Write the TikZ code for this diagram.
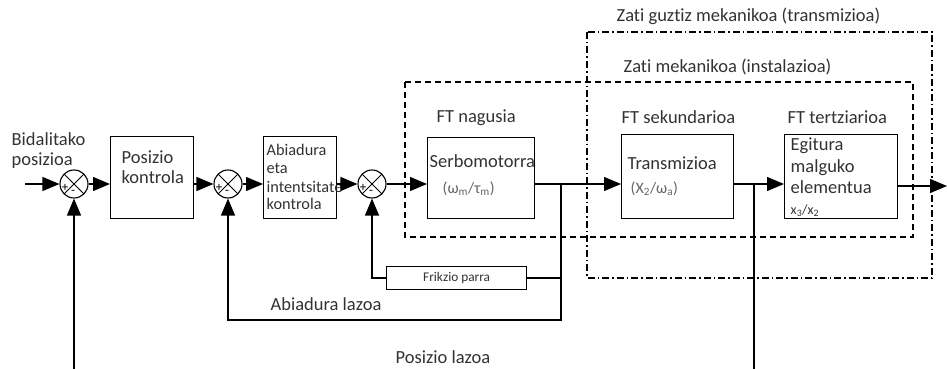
\documentclass[tikz,border=0pt]{standalone}
\usepackage{fontspec}
\setmainfont{Carlito}[Ligatures=NoCommon]
\usetikzlibrary{arrows.meta}
\newcommand\myfs[1]{\fontsize{#1}{#1}\selectfont}
\definecolor{txt}{RGB}{50,50,50}
\begin{document}
\begin{tikzpicture}[x=1pt,y=-1pt,line width=1.35pt,
  arr/.style={-{Triangle[length=17pt,width=14pt]}},
  box/.style={draw,line width=1.3pt,anchor=north west,inner sep=0pt},
  sumj/.style={circle,draw,line width=1.1pt,minimum size=28pt,inner sep=0pt,
    path picture={\draw[line width=0.9pt] (path picture bounding box.north west) -- (path picture bounding box.south east)
      (path picture bounding box.north east) -- (path picture bounding box.south west);}},
  lbl/.style={anchor=base west,inner sep=0pt,text=txt,font=\myfs{18.5}},
  sgn/.style={inner sep=0pt,text=black,font=\myfs{13}},
  dashbox/.style={line width=1.3pt,dash pattern=on 6pt off 4pt},
  dotbox/.style={line width=1.3pt,dash pattern=on 7pt off 3pt on 1.5pt off 3pt}]
\useasboundingbox (0,0) rectangle (947,369);

% dashed frames
\draw[dotbox] (587,32) rectangle (932,278);
\draw[dashbox] (405,82) rectangle (913,237);
\node[lbl] (t1) at (616,22) {Zati guztiz mekanikoa (transmizioa)};
\node[lbl] (t2) at (623,73) {Zati mekanikoa (instalazioa)};

% summing junctions
\node[sumj] (s1) at (74,184) {};
\node[sumj] (s2) at (228,184) {};
\node[sumj] (s3) at (372,184) {};
\foreach \s in {s1,s2,s3}{
  \node[sgn] (\s p) at ([shift={(-9,4)}]\s.center) {+};
  \node[sgn] (\s m) at ([shift={(-1,8)}]\s.center) {-};
}

% blocks
\node[box,minimum width=83pt,minimum height=82pt] (pk) at (110,136) {};
\node[box,minimum width=73pt,minimum height=82pt] (ab) at (263,136) {};
\node[box,minimum width=107pt,minimum height=81pt] (sm) at (427,137) {};
\node[box,minimum width=112pt,minimum height=84pt] (tr) at (621,134) {};
\node[box,minimum width=113pt,minimum height=84pt] (eg) at (784,134) {};
\node[box,minimum width=140pt,minimum height=23pt,font=\myfs{13.3},text=txt] (fp) at (386,266) {Frikzio parra};

% texts
\node[lbl] (in1) at (11,145) {Bidalitako};
\node[lbl] (in2) at (11,165) {posizioa};
\node[lbl] (pk1) at (121,163) {Posizio};
\node[lbl] (pk2) at (121,183) {kontrola};
\node[lbl,font=\myfs{16.3}] (ab1) at (266,155) {Abiadura};
\node[lbl,font=\myfs{16.3}] (ab2) at (266,173) {eta};
\node[lbl,font=\myfs{16.3}] (ab3) at (266,192) {intentsitate};
\node[lbl,font=\myfs{16.3}] (ab4) at (266,209) {kontrola};
\node[lbl] (ft1) at (436,122) {FT nagusia};
\node[lbl] (sm1) at (429,167) {Serbomotorra};
\node[lbl,font=\myfs{16},text=black!60] (sm2) at (442,193) {(ω\textsubscript{m}/τ\textsubscript{m})};
\node[lbl] (ft2) at (621,123) {FT sekundarioa};
\node[lbl] (tr1) at (627,169) {Transmizioa};
\node[lbl,font=\myfs{16},text=black!60] (tr2) at (630,193) {(X\textsubscript{2}/ω\textsubscript{a})};
\node[lbl] (ft3) at (787,123) {FT tertziarioa};
\node[lbl] (eg1) at (790,150) {Egitura};
\node[lbl] (eg2) at (790,172) {malguko};
\node[lbl] (eg3) at (790,193) {elementua};
\node[lbl,font=\myfs{14}] (eg4) at (790,214) {x\textsubscript{3}/x\textsubscript{2}};
\node[lbl] (l1) at (270,310) {Abiadura lazoa};
\node[lbl] (l2) at (395,363) {Posizio lazoa};

% forward path
\coordinate (src) at (25,184);
\coordinate (j1) at (561,184);
\coordinate (j2) at (754,184);
\coordinate (out) at (947,186);
\coordinate (c1) at (561,320);
\coordinate (bot) at (0,369);
\draw[arr] (src) -- (s1.west);
\draw[arr] (s1.east) -- (s1.east -| pk.west);
\draw[arr] (s2.west -| pk.east) -- (s2.west);
\draw[arr] (s2.east) -- (s2.east -| ab.west);
\draw[arr] (s3.west -| ab.east) -- (s3.west);
\draw[arr] (s3.east) -- (s3.east -| sm.west);
\draw (j1 -| sm.east) -- (j1);
\draw[arr] (j1) -- (j1 -| tr.west);
\draw (j2 -| tr.east) -- (j2);
\draw[arr] (j2) -- (j2 -| eg.west);
\draw[arr] (out -| eg.east) -- (out);

% feedback
\draw[arr] (j1) -- (c1) -| (s2.south);
\draw (fp.east) -- (fp.east -| j1);
\draw[arr] (fp.west) -| (s3.south);
\draw (j2) -- (j2 |- bot);
\draw[arr] (s1.south |- bot) -- (s1.south);
\end{tikzpicture}
\end{document}
